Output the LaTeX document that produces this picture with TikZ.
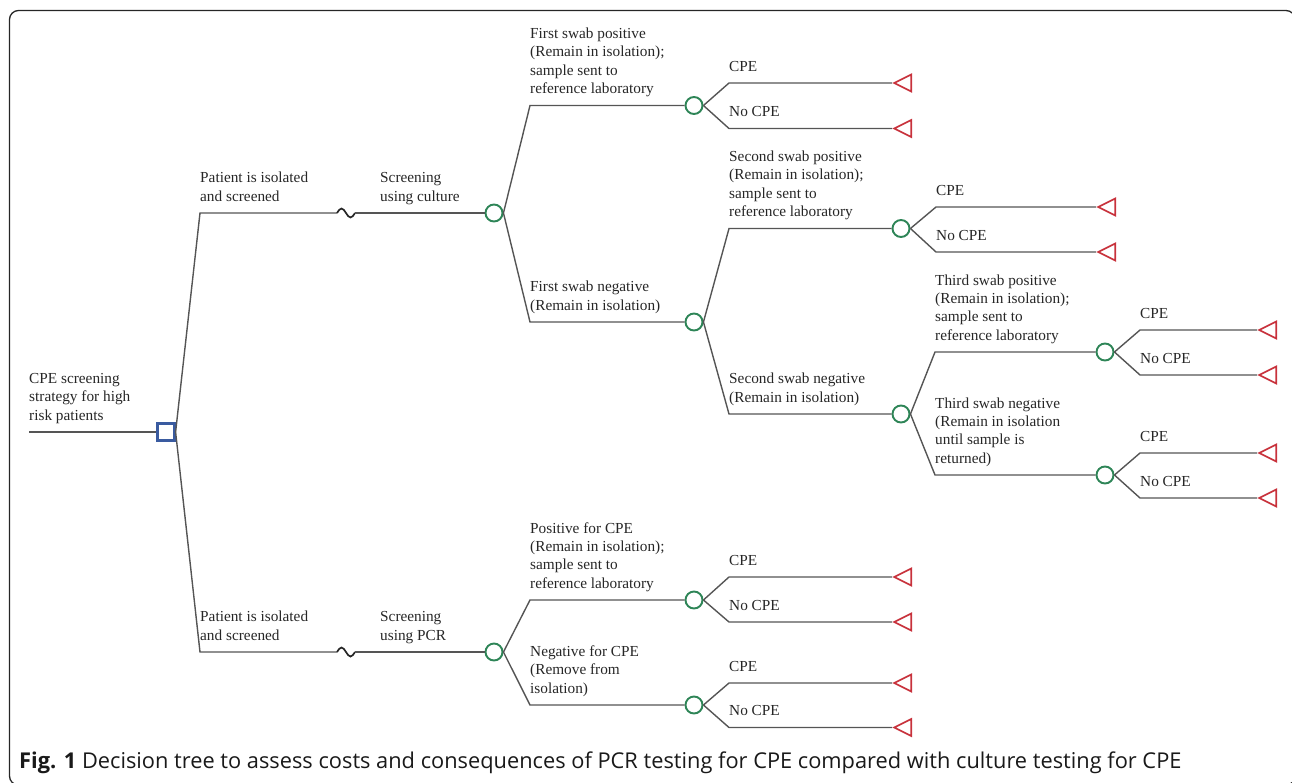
\documentclass[tikz,border=0pt]{standalone}
\usepackage{fontspec}
\setmainfont{Liberation Serif}
\newfontfamily\capfont{Open Sans}
\usetikzlibrary{shapes.geometric}
\definecolor{linegray}{HTML}{555555}
\definecolor{chgreen}{HTML}{2E8557}
\definecolor{decblue}{HTML}{3A5BA0}
\definecolor{termred}{HTML}{C8323C}
\definecolor{txtgray}{HTML}{262626}
\begin{document}
\begin{tikzpicture}[x=1pt,y=-1pt,
  br/.style={draw=linegray, line width=1.4pt},
  wave/.style={draw=black!85, line width=1.7pt},
  chance/.style={circle, draw=chgreen, line width=1.9pt, minimum size=17pt, inner sep=0pt, fill=white},
  decis/.style={rectangle, draw=decblue, line width=2.2pt, minimum size=17pt, inner sep=0pt, fill=white},
  term/.style={isosceles triangle, isosceles triangle stretches, shape border rotate=180, draw=termred, line width=1.7pt, minimum width=17pt, minimum height=17pt, inner sep=0pt, anchor=apex},
  lab/.style={anchor=base west, align=left, inner sep=0pt, font=\fontsize{15.3}{18.3}\selectfont, text=txtgray},
]
\useasboundingbox (0,0) rectangle (1292,782);
\begin{scope}
\clip (0,0) rectangle (1292,782);
\draw[line width=1.3pt, black!85, rounded corners=9pt] (9.5,10.5) rectangle (1295,785);
\end{scope}

% ---------- nodes ----------
\coordinate (r0) at (29,432);
\node[decis] (sq) at (166,432) {};
\node[chance] (c1) at (494,213) {};
\node[chance] (c2) at (694,105.5) {};
\node[chance] (c3) at (694,322) {};
\node[chance] (c4) at (901,228.5) {};
\node[chance] (c5) at (901,414) {};
\node[chance] (c6) at (1105,352) {};
\node[chance] (c7) at (1105,475) {};
\node[chance] (c8) at (494,652) {};
\node[chance] (c9) at (694,600) {};
\node[chance] (c10) at (694,705) {};

\node[term] (t1) at (892,83) {};
\node[term] (t2) at (892,128.5) {};
\node[term] (t3) at (1096,207) {};
\node[term] (t4) at (1096,252) {};
\node[term] (t5) at (1257,330) {};
\node[term] (t6) at (1257,375) {};
\node[term] (t7) at (1257,453) {};
\node[term] (t8) at (1257,498) {};
\node[term] (t9) at (892,577) {};
\node[term] (t10) at (892,622) {};
\node[term] (t11) at (892,683) {};
\node[term] (t12) at (892,727.5) {};

% corners
\coordinate (u1) at (200,213);
\coordinate (l1) at (200,652);
\coordinate (wu1) at (337,213);
\coordinate (wu2) at (355,213);
\coordinate (wl1) at (337,652);
\coordinate (wl2) at (355,652);

% ---------- connectors ----------
\draw[br] (r0) -- (sq.west);
\draw[br] (sq.east) -- (u1) -- (wu1);
\draw[wave] (wu1) sin ++(4.5,-4.5) cos ++(4.5,4.5) sin ++(4.5,4.5) cos ++(4.5,-4.5);
\draw[br] (wu2) -- (c1.west);
\draw[br] (sq.east) -- (l1) -- (wl1);
\draw[wave] (wl1) sin ++(4.5,-4.5) cos ++(4.5,4.5) sin ++(4.5,4.5) cos ++(4.5,-4.5);
\draw[br] (wl2) -- (c8.west);

\draw[br] (c1.east) -- (530,105.5) -- (c2.west);
\draw[br] (c1.east) -- (530,322) -- (c3.west);
\draw[br] (c2.east) -- (729,83) -- (t1.apex);
\draw[br] (c2.east) -- (729,128.5) -- (t2.apex);
\draw[br] (c3.east) -- (729,228.5) -- (c4.west);
\draw[br] (c3.east) -- (729,414) -- (c5.west);
\draw[br] (c4.east) -- (936,207) -- (t3.apex);
\draw[br] (c4.east) -- (936,252) -- (t4.apex);
\draw[br] (c5.east) -- (935,352) -- (c6.west);
\draw[br] (c5.east) -- (935,475) -- (c7.west);
\draw[br] (c6.east) -- (1140,330) -- (t5.apex);
\draw[br] (c6.east) -- (1140,375) -- (t6.apex);
\draw[br] (c7.east) -- (1140,453) -- (t7.apex);
\draw[br] (c7.east) -- (1140,498) -- (t8.apex);
\draw[br] (c8.east) -- (530,600) -- (c9.west);
\draw[br] (c8.east) -- (530,705) -- (c10.west);
\draw[br] (c9.east) -- (729,577) -- (t9.apex);
\draw[br] (c9.east) -- (729,622) -- (t10.apex);
\draw[br] (c10.east) -- (729,683) -- (t11.apex);
\draw[br] (c10.east) -- (729,727.5) -- (t12.apex);

% ---------- labels (anchor = baseline of last line) ----------
\node[lab] (L0) at (29,420) {CPE screening\\strategy for high\\risk patients};
\node[lab] (L1) at (200,201) {Patient is isolated\\and screened};
\node[lab] (L2) at (380,201) {Screening\\using culture};
\node[lab] (L3) at (530,93.5) {First swab positive\\(Remain in isolation);\\sample sent to\\reference laboratory};
\node[lab] (L4) at (729,71) {CPE};
\node[lab] (L5) at (729,116.5) {No CPE};
\node[lab] (L6) at (530,310) {First swab negative\\(Remain in isolation)};
\node[lab] (L7) at (729,216.5) {Second swab positive\\(Remain in isolation);\\sample sent to\\reference laboratory};
\node[lab] (L8) at (936,195) {CPE};
\node[lab] (L9) at (936,240) {No CPE};
\node[lab] (L10) at (729,402) {Second swab negative\\(Remain in isolation)};
\node[lab] (L11) at (935,340) {Third swab positive\\(Remain in isolation);\\sample sent to\\reference laboratory};
\node[lab] (L12) at (1140,318) {CPE};
\node[lab] (L13) at (1140,363) {No CPE};
\node[lab] (L14) at (935,463) {Third swab negative\\(Remain in isolation\\until sample is\\returned)};
\node[lab] (L15) at (1140,441) {CPE};
\node[lab] (L16) at (1140,486) {No CPE};
\node[lab] (L17) at (200,640) {Patient is isolated\\and screened};
\node[lab] (L18) at (380,640) {Screening\\using PCR};
\node[lab] (L19) at (530,588) {Positive for CPE\\(Remain in isolation);\\sample sent to\\reference laboratory};
\node[lab] (L20) at (729,565) {CPE};
\node[lab] (L21) at (729,610) {No CPE};
\node[lab] (L22) at (530,693) {Negative for CPE\\(Remove from\\isolation)};
\node[lab] (L23) at (729,671) {CPE};
\node[lab] (L24) at (729,715.5) {No CPE};

\node[anchor=base west, inner sep=0pt, text=black!90, font=\capfont\fontsize{21.8}{24}\selectfont] (cap) at (19,768) {\textbf{Fig. 1} Decision tree to assess costs and consequences of PCR testing for CPE compared with culture testing for CPE};
\end{tikzpicture}
\end{document}
